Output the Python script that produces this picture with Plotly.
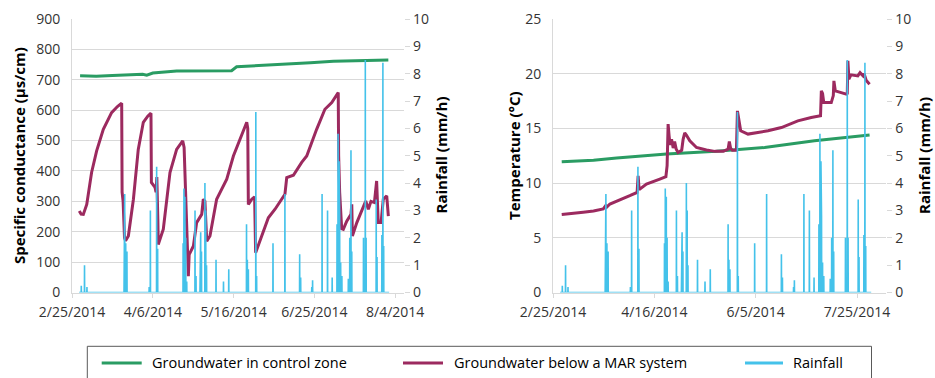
import pandas as pd
import plotly.graph_objects as go

START = pd.Timestamp("2014-02-25")

# ---------------- data (days since 2/25/2014) ----------------
# Rainfall (mm/h): spike events, shared by both panels
rain_day = [4.6, 6.2, 7.4, 25.8, 26.1, 26.6, 27.2, 38.2, 38.8, 41.9, 42.4,
            55.0, 55.4, 55.9, 56.3, 56.8, 60.9, 61.4, 63.4, 63.7, 64.1, 65.8,
            66.2, 66.6, 71.3, 75.0, 77.6, 86.4, 86.8, 87.3, 91.0, 91.4, 99.5,
            105.4, 112.7, 113.2, 118.7, 119.1, 123.8, 126.5, 128.8, 131.2,
            131.7, 132.2, 132.5, 133.0, 133.6, 136.8, 137.5, 138.1, 138.5,
            144.3, 145.2, 145.6, 150.6, 151.0, 153.4, 153.9, 154.3]
rain_mm = [0.25, 1.0, 0.2, 1.6, 3.6, 1.8, 1.5, 0.2, 3.0, 4.6, 1.6,
           1.8, 3.8, 3.5, 2.0, 0.4, 3.0, 0.6, 0.6, 2.2, 1.5, 4.0,
           3.0, 1.0, 1.2, 0.4, 0.85, 2.5, 1.2, 0.85, 6.6, 0.6, 1.8,
           3.6, 1.4, 0.55, 0.2, 0.45, 3.6, 3.0, 0.55, 2.5,
           5.8, 4.8, 2.8, 1.1, 0.6, 0.5, 2.0, 5.2, 1.5,
           2.0, 8.5, 2.0, 3.4, 1.3, 2.1, 8.4, 1.7]
rain_first_day = 3.5
rain_last_day = 157.0

# Specific conductance (µs/cm)
sc_control_day = [4.0, 12, 20, 30, 35, 37, 40, 51.8, 65, 79, 81.5, 95, 104.6,
                  118, 129.4, 145, 156.6]
sc_control = [713, 712, 714, 717, 718, 715, 722, 729, 729, 730, 743, 747, 751,
              756, 761, 763, 765]

sc_mar_day = [3.6, 4.5, 5.6, 7.3, 9.7, 12.2, 15.5, 19.6, 22.5, 24.6, 24.8, 25.3,
              26.0, 26.5, 27.9, 30.4, 32.8, 35.3, 37.5, 39.1, 39.3, 41.1, 41.6,
              42.0, 42.5, 42.7, 45.2, 48.5, 51.8, 54.8, 55.5, 56.0, 56.5, 57.6,
              58.0, 60.1, 61.7, 64.2, 65.0, 65.8, 66.7, 68.3, 71.6, 76.6, 79.9,
              84.0, 86.5, 87.0, 87.3, 89.0, 90.4, 90.9, 93.9, 97.2, 100.5, 105.4,
              106.3, 109.6, 113.7, 116.2, 121.1, 125.2, 128.6, 131.8, 132.0,
              132.5, 133.5, 134.3, 136.0, 138.1, 138.5, 138.8, 141.0, 144.2,
              145.4, 146.7, 148.0, 149.7, 150.8, 151.6, 153.0, 154.1, 155.8, 156.6]
sc_mar = [268, 258, 257, 290, 395, 466, 537, 592, 612, 623, 330, 300,
          180, 170, 186, 307, 471, 560, 580, 590, 362, 346, 330,
          380, 240, 158, 208, 395, 471, 499, 477, 362, 300, 54,
          125, 153, 230, 257, 307, 300, 169, 186, 307, 373, 449,
          515, 560, 540, 290, 307, 315, 131, 186, 246, 274, 323,
          378, 386, 428, 449, 537, 603, 625, 658, 450,
          330, 210, 208, 235, 257, 290, 186, 230, 285,
          301, 274, 300, 296, 367, 230, 230, 307, 318, 251]

# Temperature (°C)
t_control_day = [4.3, 20, 31.4, 56, 80.6, 104.4, 129, 156.2]
t_control = [11.95, 12.1, 12.29, 12.65, 12.9, 13.26, 13.87, 14.4]

t_mar_day = [4.3, 10, 14.9, 20, 24.8, 26.0, 26.5, 28.1, 33, 37.9, 41.5, 42.0,
             42.5, 46.1, 52.7, 55.7, 56.3, 56.8, 57.3, 57.8, 58.5, 59.3, 60.0,
             60.8, 61.7, 63.5, 64.2, 65.0, 65.8, 67.5, 70.8, 75.7, 79.8, 84.0,
             86.4, 87.0, 87.6, 88.5, 90.5, 91.0, 92.6, 96.2, 101.1, 106.1,
             112.7, 120.8, 127.4, 132.0, 132.4, 133.0, 133.6, 137.3, 138.3,
             138.6, 139.3, 144.7, 145.2, 145.5, 146.0, 147.0, 150.4, 151.5,
             153.0, 153.5, 154.5, 156.2]
t_mar = [7.12, 7.2, 7.33, 7.45, 7.64, 7.94, 7.8, 8.09, 8.45, 8.85, 9.15, 10.67,
         9.4, 9.92, 10.37, 10.58, 11.6, 15.39, 14.3, 13.5, 14.0, 13.2, 13.8,
         13.1, 12.8, 13.0, 14.0, 14.6, 14.4, 13.87, 13.26, 13.02, 12.9, 12.9,
         13.1, 13.8, 13.2, 13.0, 13.0, 16.6, 14.78, 14.48, 14.63, 14.78,
         15.08, 15.69, 16.0, 16.15, 18.43, 18.2, 17.36, 17.36, 18.0,
         19.34, 18.43, 18.13, 18.2, 21.17, 19.5, 19.9, 19.8, 20.1,
         19.8, 20.0, 19.4, 19.04]

sc_range = [0, 900]
t_range = [0, 25]
rain_range = [0, 10]
series_names = ["Groundwater in control zone", "Groundwater below a MAR system", "Rainfall"]

# ---------------- styling ----------------
GREEN = "#2a9c63"
MAGENTA = "#9c2a5f"
CYAN = "#44c2ea"
GRID = "#d9d9d9"
TXT = "#333333"
FONT = "Open Sans"
W, H = 935, 378


def dates(days):
    return [START + pd.Timedelta(days=float(d)) for d in days]


# spike polyline for rainfall
rx, ry = [rain_first_day], [0.0]
for d, v in sorted(zip(rain_day, rain_mm)):
    rx += [d - 0.06, d, d + 0.06]
    ry += [0.0, v, 0.0]
rx.append(rain_last_day)
ry.append(0.0)


def px(xp):
    return xp / W


def py(yp):
    return 1 - yp / H


fig = go.Figure()
fig.add_trace(go.Scatter(x=dates(sc_control_day), y=sc_control, mode="lines",
                         line=dict(color=GREEN, width=3), xaxis="x", yaxis="y"))
fig.add_trace(go.Scatter(x=dates(sc_mar_day), y=sc_mar, mode="lines",
                         line=dict(color=MAGENTA, width=3), xaxis="x", yaxis="y"))
fig.add_trace(go.Scatter(x=dates(rx), y=ry, mode="lines",
                         line=dict(color=CYAN, width=1.6), xaxis="x", yaxis="y2"))
fig.add_trace(go.Scatter(x=dates(t_control_day), y=t_control, mode="lines",
                         line=dict(color=GREEN, width=3), xaxis="x2", yaxis="y3"))
fig.add_trace(go.Scatter(x=dates(t_mar_day), y=t_mar, mode="lines",
                         line=dict(color=MAGENTA, width=3), xaxis="x2", yaxis="y3"))
fig.add_trace(go.Scatter(x=dates(rx), y=ry, mode="lines",
                         line=dict(color=CYAN, width=1.6), xaxis="x2", yaxis="y4"))

ydom = [py(292.5), py(19)]
tickfont = dict(family=FONT, size=14, color=TXT)
xrange_ = [START, START + pd.Timedelta(days=164.5)]

xcommon = dict(type="date", range=xrange_, tick0=START, tickformat="%-m/%-d/%Y",
               showgrid=False, showline=True, linecolor=GRID, linewidth=1,
               ticks="outside", ticklen=4, tickcolor=GRID, tickfont=tickfont,
               zeroline=False, automargin=False, ticklabelstandoff=3)
fig.update_layout(
    template="none",
    xaxis=dict(domain=[px(72), px(404.3)], anchor="y", dtick=40 * 86400000, **xcommon),
    xaxis2=dict(domain=[px(553), px(886.4)], anchor="y3", dtick=50 * 86400000, **xcommon),
    yaxis=dict(domain=ydom, anchor="x", range=sc_range, dtick=100, showgrid=True,
               gridcolor=GRID, gridwidth=1, showline=True, linecolor=GRID, zeroline=False,
               ticks="", tickfont=tickfont, ticklabelstandoff=8, automargin=False),
    yaxis2=dict(overlaying="y", anchor="x", side="right", range=rain_range, dtick=1,
                showgrid=False, zeroline=False, showline=False, ticks="outside",
                ticklen=5, tickcolor=GRID, tickfont=tickfont, automargin=False),
    yaxis3=dict(domain=ydom, anchor="x2", range=t_range, dtick=5, showgrid=True,
                gridcolor=GRID, gridwidth=1, showline=True, linecolor=GRID, zeroline=False,
                ticks="", tickfont=tickfont, ticklabelstandoff=8, automargin=False),
    yaxis4=dict(overlaying="y3", anchor="x2", side="right", range=rain_range, dtick=1,
                showgrid=False, zeroline=False, showline=False, ticks="outside",
                ticklen=5, tickcolor=GRID, tickfont=tickfont, automargin=False),
    width=W, height=H, margin=dict(l=0, r=0, t=0, b=0, pad=0),
    paper_bgcolor="white", plot_bgcolor="white", showlegend=False,
    font=dict(family=FONT, color=TXT),
)

titlefont = dict(family=FONT, size=15, color="#000000")
ann = [
    ("<b>Specific conductance (µs/cm)</b>", 18.5),
    ("<b>Rainfall (mm/h)</b>", 440),
    ("<b>Temperature (°C)</b>", 513.5),
    ("<b>Rainfall (mm/h)</b>", 923.5),
]
for text, xc in ann:
    fig.add_annotation(text=text, x=px(xc), y=py(155.5), xref="paper", yref="paper",
                       showarrow=False, textangle=-90, font=titlefont,
                       xanchor="center", yanchor="middle")

# legend box (manual, to mirror the original's spacing)
fig.add_shape(type="rect", xref="paper", yref="paper", x0=px(87.3), x1=px(871.5),
              y0=py(382), y1=py(346.3), line=dict(color="#595959", width=1),
              fillcolor="rgba(0,0,0,0)")
legend_items = [
    (series_names[0], GREEN, 101.7, 141.7, 151.7),
    (series_names[1], MAGENTA, 403, 443, 454),
    (series_names[2], CYAN, 745, 783, 793),
]
for name, col, l0, l1, tx in legend_items:
    fig.add_shape(type="line", xref="paper", yref="paper", x0=px(l0), x1=px(l1),
                  y0=py(363), y1=py(363), line=dict(color=col, width=3))
    fig.add_annotation(text=name, x=px(tx - 2), y=py(362.5), xref="paper", yref="paper",
                       showarrow=False, xanchor="left", yanchor="middle",
                       font=dict(family=FONT, size=14.5, color="#000000"))

fig.write_html("out.html")
